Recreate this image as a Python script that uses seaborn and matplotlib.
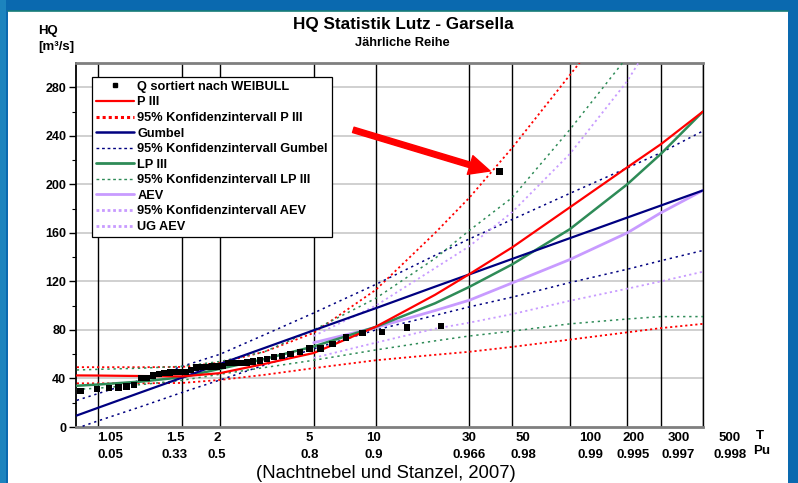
import numpy as np
import pandas as pd
import matplotlib
matplotlib.use("Agg")
import matplotlib.pyplot as plt
import matplotlib.transforms as mtransforms
from matplotlib.lines import Line2D
from matplotlib.patches import Rectangle
import seaborn as sns

# ---------------- data ----------------
# return periods T at which the fitted curves were read
T_grid = [1.02, 1.05, 1.2, 1.5, 2, 3, 5, 10, 20, 30, 50, 100, 200, 300, 500]

p3      = [42.5, 42.4, 42.0, 41.7, 44.4, 52, 61, 82.6, 109, 126, 148, 181, 214, 233, 260]
p3_up   = [49.3, 49.3, 49.3, 49.5, 53, 62, 77.6, 113, 160, 189, 230, 290, 350, 390, 450]
p3_lo   = [36, 36, 36, 36.3, 38.8, 43, 48.5, 55, 59.5, 62, 66, 72, 78, 81.5, 85]

gumbel    = [9.5, 15.8, 28.8, 40.7, 52.0, 65.1, 79.7, 97.9, 115.7, 125.8, 138.5, 155.6, 172.6, 182.5, 195.0]
gumbel_up = [22, 27.5, 39, 50, 60, 76, 94, 117.5, 141.5, 155, 171, 192.5, 213.5, 226, 244]
gumbel_lo = [-1, 5, 17, 28.5, 38.8, 51, 64.5, 80, 92, 99, 107, 119, 130, 137, 145.5]

lp3    = [34, 35, 37.5, 41, 48, 56, 66.4, 82.5, 102, 115.5, 134, 163, 200, 225, 260]
lp3_up = [47, 47.5, 48.5, 50, 54, 62, 80, 106, 139, 162, 189, 245, 305, 350, 410]
lp3_lo = [31, 32, 35, 38.5, 43.5, 49, 55, 63.5, 71, 75, 79, 85, 89, 91, 91]

nan = np.nan
aev    = [nan, nan, nan, nan, nan, nan, 69.5, 82, 96, 104.5, 118.7, 138, 160, 176.5, 195]
aev_up = [nan, nan, nan, nan, nan, nan, 75, 100, 131, 149, 177, 225, 285, 330, 390]
aev_lo = [nan, nan, nan, nan, nan, nan, 57, 69.5, 81, 86, 93, 104, 114, 120, 128]

# annual maxima sorted (Weibull plotting positions)
q_sorted = [29.7, 31.4, 32, 32.5, 33.3, 34.4, 40.5, 40.5, 42.4, 43.5, 44.4, 44.9, 45.2,
            45.5, 45.5, 47.1, 49, 49.3, 49.3, 49.8, 49.8, 50.4, 52.6, 52.6, 52.6, 53.2,
            54, 54.8, 55.9, 57.6, 58.7, 60.1, 61.7, 64.7, 64.7, 68.3, 73.8, 77.4, 78.2,
            82, 83.5, 210.5]

# axis annotation
T_lines  = [1.05, 1.5, 2, 5, 10, 30, 50, 100, 200, 300, 500]
T_labels = ["1.05", "1.5", "2", "5", "10", "30", "50", "100", "200", "300", "500"]
Pu_labels = ["0.05", "0.33", "0.5", "0.8", "0.9", "0.966", "0.98", "0.99", "0.995", "0.997", "0.998"]
label_pos = [-0.967, -0.180, 0.329, 1.446, 2.222, 3.384, 4.038, 4.846, 5.370, 5.915, 6.541]

y_ticks = [0, 40, 80, 120, 160, 200, 240, 280]


def rv_T(T):
    """Gumbel reduced variate for return period T."""
    T = np.asarray(T, float)
    return -np.log(-np.log(1.0 - 1.0 / T))


def rv_P(P):
    P = np.asarray(P, float)
    return -np.log(-np.log(P))


x_grid = rv_T(T_grid)
n = len(q_sorted)
x_pts = rv_P(np.arange(1, n + 1) / (n + 1.0))

# ---------------- style ----------------
sns.set_theme(style="white")
plt.rcParams['font.family'] = ['Liberation Sans', 'DejaVu Sans']
plt.rcParams['text.color'] = 'black'
plt.rcParams['axes.labelcolor'] = 'black'
plt.rcParams['ytick.color'] = 'black'
plt.rcParams['xtick.color'] = 'black'

RED = '#FF0000'
NAVY = '#000080'
GREEN = '#2E8B57'
PURP = '#C89BFF'

fig = plt.figure(figsize=(7.98, 4.83), dpi=100)
fig.patch.set_facecolor('#0A69AF')
fig.patches.append(Rectangle((8 / 798, 0), 780 / 798, 472 / 483, transform=fig.transFigure,
                             facecolor='white', edgecolor='none', zorder=-10))
fig.lines.append(Line2D([8 / 798, 788 / 798], [472 / 483, 472 / 483], transform=fig.transFigure,
                        color='#177C78', lw=1.2, zorder=-9))
fig.patches.append(Rectangle((0, 0), 6 / 798, 1, transform=fig.transFigure,
                             facecolor='#1C84BE', edgecolor='none', zorder=-10))

ax = fig.add_axes([76 / 798, 56 / 483, 627 / 798, 364 / 483])
ax.set_zorder(1)
ax.set_facecolor('white')

x_left = -1.379
x_right = float(rv_T(500))
ax.set_xlim(x_left, x_right)
ax.set_ylim(0, 300)

# horizontal grid
for yv in y_ticks[1:]:
    ax.axhline(yv, color='#C8C8C8', lw=1.2, zorder=1)
# vertical lines at the return periods
for tv in T_lines:
    ax.axvline(float(rv_T(tv)), color='black', lw=1.0, zorder=2)


def draw(yvals, color, lw, ls, z):
    d = pd.DataFrame({'x': x_grid, 'y': yvals}).dropna()
    sns.lineplot(data=d, x='x', y='y', ax=ax, color=color, lw=lw, linestyle=ls,
                 zorder=z, estimator=None, sort=True)


# confidence intervals (dotted)
draw(p3_up, RED, 1.3, (0, (1.2, 1.6)), 3)
draw(p3_lo, RED, 1.3, (0, (1.2, 1.6)), 3)
draw(gumbel_up, NAVY, 1.1, (0, (1.5, 2.5)), 3)
draw(gumbel_lo, NAVY, 1.1, (0, (1.5, 2.5)), 3)
draw(lp3_up, GREEN, 1.1, (0, (1.5, 2.5)), 3)
draw(lp3_lo, GREEN, 1.1, (0, (1.5, 2.5)), 3)
draw(aev_up, PURP, 1.3, (0, (1.2, 1.8)), 3)
draw(aev_lo, PURP, 1.3, (0, (1.2, 1.8)), 3)

# fitted distributions (solid)
draw(aev, PURP, 2.0, '-', 4)
draw(lp3, GREEN, 1.8, '-', 4)
draw(gumbel, NAVY, 1.6, '-', 4)
draw(p3, RED, 1.6, '-', 4)

# observed values
sns.scatterplot(x=x_pts, y=q_sorted, ax=ax, marker='s', s=20, color='black',
                edgecolor='none', zorder=6, legend=False)

# arrow to the outlier
ax.annotate('', xy=(3.635, 211), xytext=(1.979, 244.9),
            arrowprops=dict(arrowstyle='simple,head_length=0.75,head_width=0.7,tail_width=0.2',
                            color=RED, mutation_scale=20, shrinkA=0, shrinkB=0), zorder=7)

# axes styling
ax.set_xlabel('')
ax.set_ylabel('')
ax.set_xticks([])
ax.set_yticks(y_ticks)
ax.set_yticks([20, 60, 100, 140, 180, 220, 260], minor=True)
ax.tick_params(axis='y', which='major', left=True, length=5, width=1, direction='out',
               labelsize=9, pad=2, colors='black')
ax.tick_params(axis='y', which='minor', left=True, length=3, width=0.8, direction='out')
for lbl in ax.get_yticklabels():
    lbl.set_fontweight('bold')
ax.spines['left'].set_color('black')
ax.spines['left'].set_linewidth(1.3)
for s in ('top', 'bottom'):
    ax.spines[s].set_color('#7F7F7F')
    ax.spines[s].set_linewidth(2)
ax.spines['right'].set_color('black')
ax.spines['right'].set_linewidth(1.0)

# x annotation rows
trans = mtransforms.blended_transform_factory(ax.transData, ax.transAxes)
for xp, tl, pl in zip(label_pos, T_labels, Pu_labels):
    ax.text(xp, -0.030, tl, transform=trans, ha='center', va='center', fontsize=9.5,
            fontweight='bold', clip_on=False)
    ax.text(xp, -0.077, pl, transform=trans, ha='center', va='center', fontsize=9.5,
            fontweight='bold', clip_on=False)
ax.text(6.905, -0.025, 'T', transform=trans, ha='center', va='center', fontsize=9.5,
        fontweight='bold', clip_on=False)
ax.text(6.92, -0.066, 'Pu', transform=trans, ha='center', va='center', fontsize=9.5,
        fontweight='bold', clip_on=False)

# legend
handles = [
    Line2D([], [], marker='s', color='black', linestyle='none', markersize=3.5),
    Line2D([], [], color=RED, lw=1.6),
    Line2D([], [], color=RED, lw=2.2, linestyle=(0, (1, 1))),
    Line2D([], [], color=NAVY, lw=1.8),
    Line2D([], [], color=NAVY, lw=1.0, linestyle=(0, (2, 2))),
    Line2D([], [], color=GREEN, lw=2.0),
    Line2D([], [], color=GREEN, lw=1.0, linestyle=(0, (2, 2))),
    Line2D([], [], color=PURP, lw=2.0),
    Line2D([], [], color=PURP, lw=2.0, linestyle=(0, (1, 1))),
    Line2D([], [], color=PURP, lw=2.0, linestyle=(0, (1, 1))),
]
labels = ["Q sortiert nach WEIBULL", "P III", "95% Konfidenzintervall P III", "Gumbel",
          "95% Konfidenzintervall Gumbel", "LP III", "95% Konfidenzintervall LP III",
          "AEV", "95% Konfidenzintervall AEV", "UG AEV"]
leg = ax.legend(handles, labels, loc='upper left', bbox_to_anchor=(0.0255, 0.9615),
                borderaxespad=0, frameon=True, fancybox=False, edgecolor='black',
                framealpha=1, facecolor='white', prop={'weight': 'bold', 'size': 9.2},
                handlelength=2.95, handletextpad=0.3, labelspacing=0.28, borderpad=0.3)
leg.get_frame().set_linewidth(0.9)
leg.set_zorder(8)

# titles and captions
fig.text(403 / 798, 1 - 24 / 483, 'HQ Statistik Lutz - Garsella', ha='center', va='center',
         fontsize=12.3, fontweight='bold')
fig.text(402 / 798, 1 - 43 / 483, 'Jährliche Reihe', ha='center', va='center',
         fontsize=9.3, fontweight='bold')
fig.text(38 / 798, 1 - 31 / 483, 'HQ', ha='left', va='center', fontsize=9.5, fontweight='bold')
fig.text(38 / 798, 1 - 47 / 483, '[m³/s]', ha='left', va='center', fontsize=9.5,
         fontweight='bold')
fig.text(386 / 798, 1 - 474 / 483, '(Nachtnebel und Stanzel, 2007)', ha='center', va='center',
         fontsize=13.3)

fig.savefig('out.png', dpi=100, facecolor=fig.get_facecolor())
